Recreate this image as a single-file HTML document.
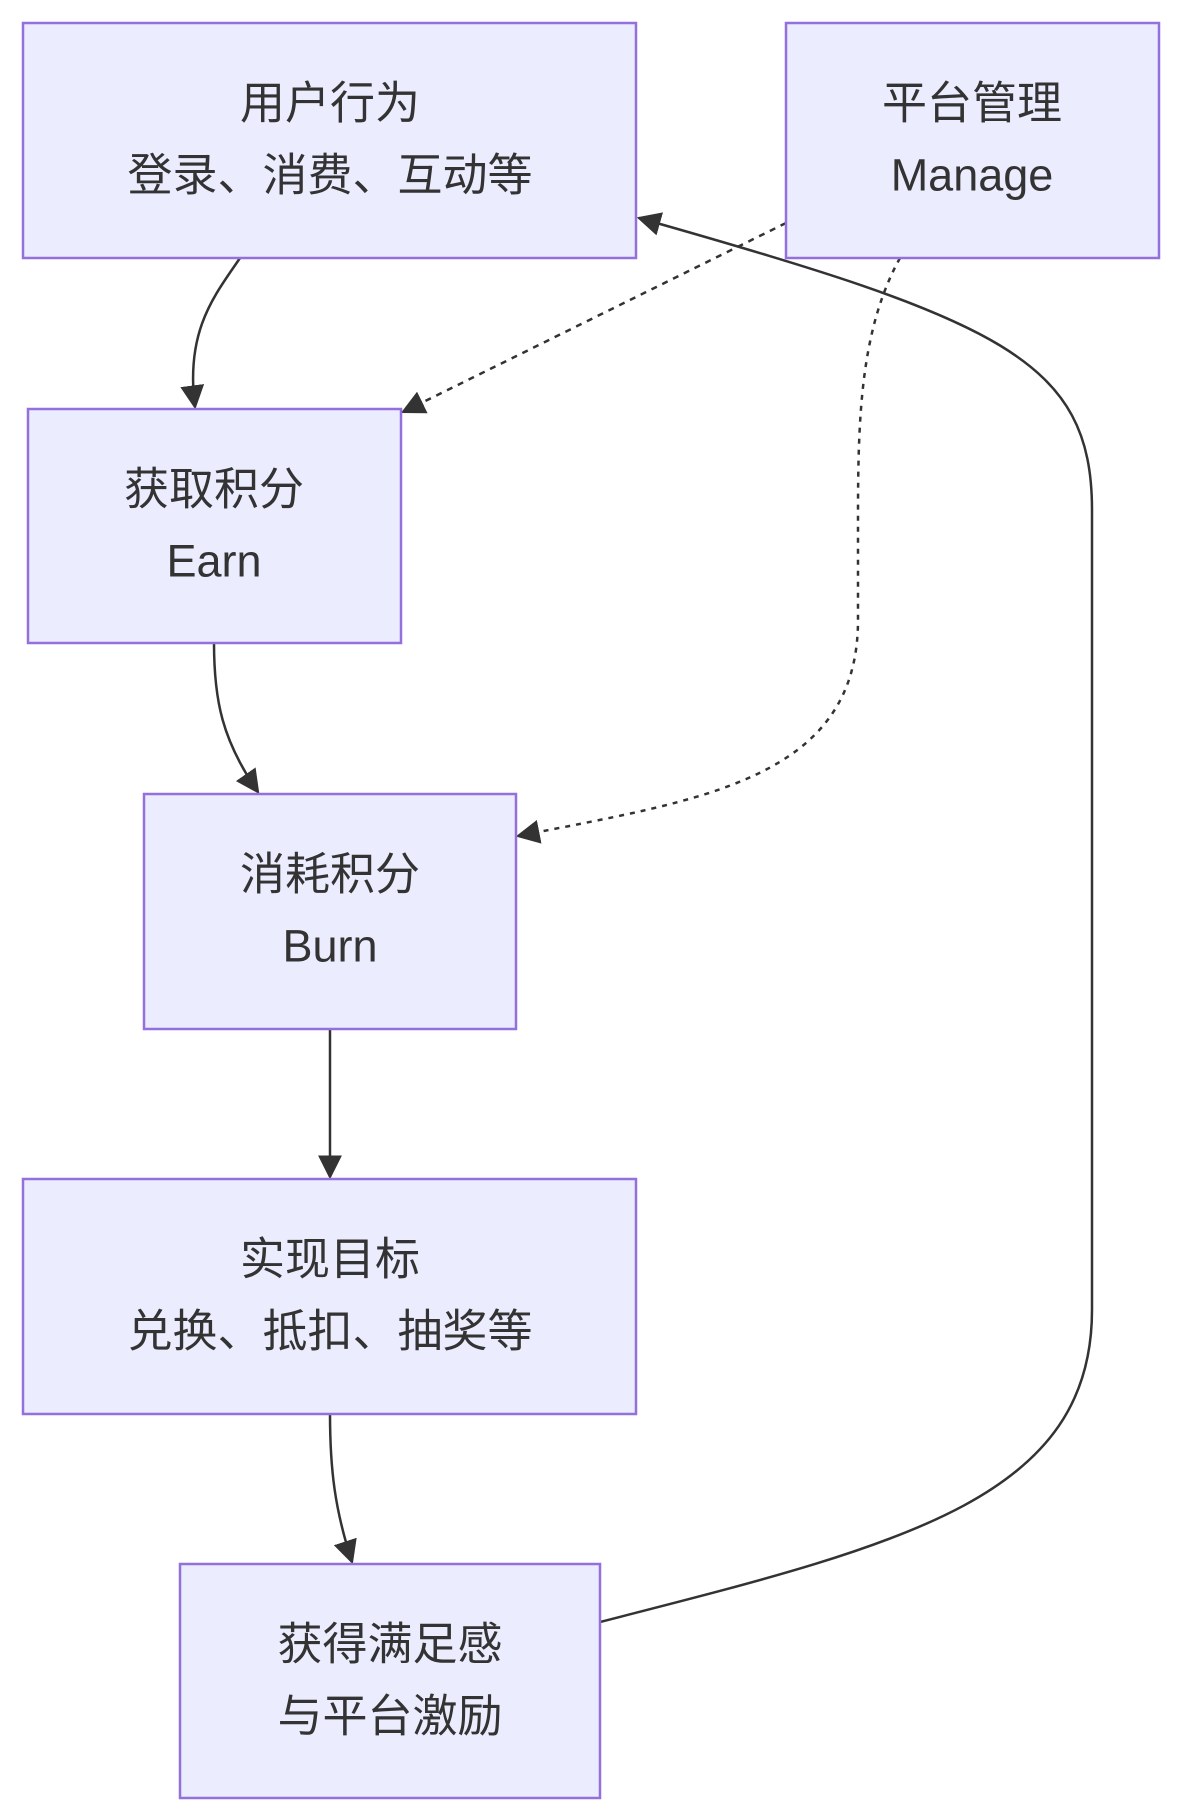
<!DOCTYPE html>
<html><head><meta charset="utf-8"><style>
html,body{margin:0;padding:0;background:#fff;}
svg{display:block;}
text{font-family:"Liberation Sans","Noto Sans CJK SC",sans-serif;font-size:45px;fill:#333;text-anchor:middle;dominant-baseline:central;}
</style></head><body>
<svg width="1182" height="1817" viewBox="0 0 1182 1817" xmlns="http://www.w3.org/2000/svg">
<defs>
<marker id="ah" viewBox="0 0 10 10" refX="9" refY="5" markerWidth="8" markerHeight="8" markerUnits="userSpaceOnUse" orient="auto">
<path d="M0,0 L10,5 L0,10 z" fill="#333"/>
</marker>
<marker id="a" viewBox="0 0 10 10" refX="9" refY="5" markerWidth="24" markerHeight="24" markerUnits="userSpaceOnUse" orient="auto">
<path d="M0,0 L10,5 L0,10 z" fill="#333"/>
</marker>
</defs>
<g fill="none" stroke="#333" stroke-width="2.5">
<path d="M240,258 C215,295 185,330 195,407" marker-end="url(#a)"/>
<path d="M214,643 C214,700 222,740 258,792" marker-end="url(#a)"/>
<path d="M330,1029 L330,1177" marker-end="url(#a)"/>
<path d="M330,1414 C330,1470 335,1510 352,1562" marker-end="url(#a)"/>
<path d="M600,1622 C900,1545 1092,1500 1092,1310 L1092,510 C1092,360 1000,320 639,218" marker-end="url(#a)"/>
<path d="M786,223 L403,412" stroke-dasharray="6,6" marker-end="url(#a)"/>
<path d="M900,258 C860,330 858,420 858,520 L858,620 C858,780 700,800 518,836" stroke-dasharray="5,6" marker-end="url(#a)"/>
</g>
<g fill="#ECECFF" stroke="#9370DB" stroke-width="2.5">
<rect x="23" y="23" width="613" height="235"/>
<rect x="786" y="23" width="373" height="235"/>
<rect x="28" y="409" width="373" height="234"/>
<rect x="144" y="794" width="372" height="235"/>
<rect x="23" y="1179" width="613" height="235"/>
<rect x="180" y="1564" width="420" height="234"/>
</g>
<text x="330" y="103">用户行为</text>
<text x="330" y="175">登录、消费、互动等</text>
<text x="972" y="103">平台管理</text>
<text x="972" y="175">Manage</text>
<text x="214" y="489">获取积分</text>
<text x="214" y="561">Earn</text>
<text x="330" y="874">消耗积分</text>
<text x="330" y="946">Burn</text>
<text x="330" y="1259">实现目标</text>
<text x="330" y="1331">兑换、抵扣、抽奖等</text>
<text x="390" y="1644">获得满足感</text>
<text x="390" y="1716">与平台激励</text>
</svg>
</body></html>
